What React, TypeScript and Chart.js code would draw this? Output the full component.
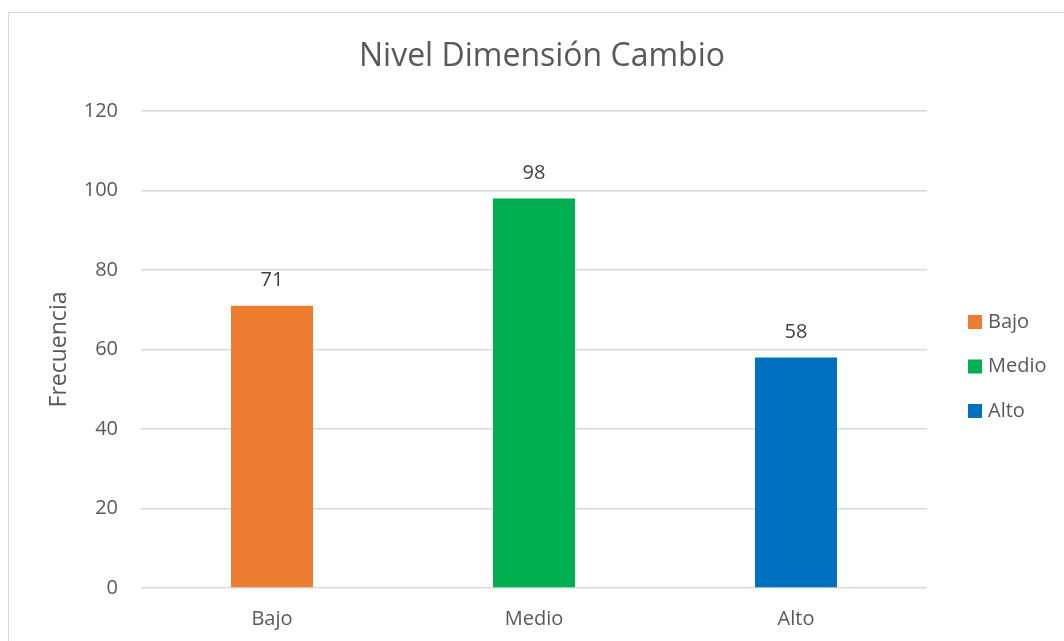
import { useEffect, useRef } from "react";
import { Chart, registerables } from "chart.js";

Chart.register(...registerables);

const categories = ["Bajo", "Medio", "Alto"];
const values = [71, 98, 58];
const barColors = ["#ED7D31", "#00B050", "#0070C0"];
const yTickValues = [0, 20, 40, 60, 80, 100, 120];
const chartTitle = "Nivel Dimensión Cambio";
const yAxisTitle = "Frecuencia";

const FONT = "'Open Sans', sans-serif";
const TEXT = "#595959";
const GRID = "#D9D9D9";

const valueLabels = {
  id: "valueLabels",
  afterDatasetsDraw(chart: any) {
    const ctx = chart.ctx;
    const meta = chart.getDatasetMeta(0);
    ctx.save();
    ctx.font = `20px ${FONT}`;
    ctx.fillStyle = "#404040";
    ctx.textAlign = "center";
    ctx.textBaseline = "middle";
    meta.data.forEach((el: any, i: number) => {
      ctx.fillText(String(values[i]), el.x, el.y - 25);
    });
    ctx.restore();
  },
};

const sideLegend = {
  id: "sideLegend",
  afterDraw(chart: any) {
    const { ctx, chartArea } = chart;
    const x = chartArea.right + 41;
    const cy = (chartArea.top + chartArea.bottom) / 2 + 17;
    const step = 44.5;
    ctx.save();
    ctx.font = `20px ${FONT}`;
    ctx.textAlign = "left";
    ctx.textBaseline = "middle";
    categories.forEach((c, i) => {
      const y = cy + (i - (categories.length - 1) / 2) * step;
      ctx.fillStyle = barColors[i];
      ctx.fillRect(x, y - 7, 14, 14);
      ctx.fillStyle = TEXT;
      ctx.fillText(c, x + 20, y);
    });
    ctx.restore();
  },
};

export default function App() {
  const ref = useRef<HTMLCanvasElement | null>(null);

  useEffect(() => {
    if (!ref.current) return;
    const chart = new Chart(ref.current, {
      type: "bar",
      data: {
        labels: categories,
        datasets: [
          {
            label: yAxisTitle,
            data: values,
            backgroundColor: barColors,
            borderWidth: 0,
            categoryPercentage: 1,
            barPercentage: 0.313,
          },
        ],
      },
      options: {
        animation: false,
        responsive: false,
        maintainAspectRatio: false,
        layout: { padding: { left: 20, right: 0, top: 0, bottom: 0 } },
        plugins: {
          legend: { display: false },
          tooltip: { enabled: false },
          title: {
            display: true,
            text: chartTitle,
            color: TEXT,
            font: { family: FONT, size: 32, weight: "normal" },
            padding: { top: 38, bottom: 34.6 },
          },
        },
        scales: {
          x: {
            grid: { display: false },
            border: { display: false },
            ticks: {
              color: TEXT,
              font: { family: FONT, size: 20 },
              padding: 11,
            },
            afterFit: (s: any) => {
              s.height = 53;
            },
          },
          y: {
            min: 0,
            max: 120,
            afterBuildTicks: (s: any) => {
              s.ticks = yTickValues.map((v) => ({ value: v }));
            },
            grid: { color: GRID, lineWidth: 1.5, drawTicks: false },
            border: { display: false },
            ticks: {
              color: TEXT,
              font: { family: FONT, size: 20 },
              padding: 23,
            },
            title: {
              display: true,
              text: yAxisTitle,
              color: TEXT,
              font: { family: FONT, size: 23 },
              padding: { top: 26, bottom: 0 },
            },
            afterFit: (s: any) => {
              s.width = 121;
            },
          },
          spacer: {
            type: "linear",
            position: "right",
            display: true,
            grid: { display: false },
            border: { display: false },
            ticks: { display: false },
            afterFit: (s: any) => {
              s.width = 137;
            },
          },
        },
      },
      plugins: [valueLabels, sideLegend],
    } as any);
    return () => chart.destroy();
  }, []);

  return (
    <div
      style={{
        position: "fixed",
        left: 0,
        top: 0,
        width: 1064,
        height: 641,
        overflow: "hidden",
        background: "#fff",
      }}
    >
      <div
        style={{
          position: "absolute",
          left: 8,
          top: 12,
          width: 1200,
          height: 800,
          border: "1px solid #D9D9D9",
        }}
      />
      <canvas
        ref={ref}
        width={1064}
        height={641}
        style={{ position: "absolute", left: 0, top: 0, width: 1064, height: 641 }}
      />
    </div>
  );
}
